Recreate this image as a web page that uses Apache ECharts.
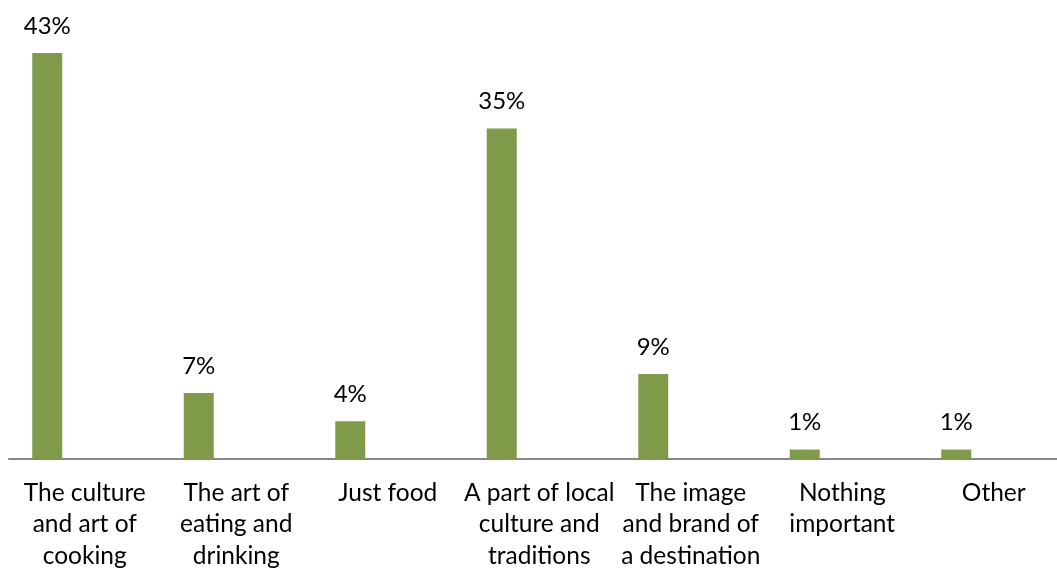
<!DOCTYPE html>
<html>
<head>
<meta charset="utf-8">
<script src="https://cdn.jsdelivr.net/npm/echarts@6/dist/echarts.min.js"></script>
<style>
  html, body { margin: 0; padding: 0; background: #ffffff; }
  #chart { width: 1057px; height: 570px; }
</style>
</head>
<body>
<div id="chart"></div>
<script>
// Survey answers: what gastronomy means to respondents (share of answers, %)
const categories = [
  'The culture\nand art of\ncooking',
  'The art of\neating and\ndrinking',
  'Just food',
  'A part of local\nculture and\ntraditions',
  'The image\nand brand of\na destination',
  'Nothing\nimportant',
  'Other'
];
const shares = [43, 7, 4, 35, 9, 1, 1];
// second slot of each cluster is left empty
const emptySlot = [null, null, null, null, null, null, null];

const FONT = 'Lato';
const chart = echarts.init(document.getElementById('chart'), null, { renderer: 'canvas' });

chart.setOption({
  animation: false,
  backgroundColor: '#ffffff',
  // plot area runs past the right edge of the canvas
  grid: {
    left: 9, top: 34, height: 425, width: 1060.5,
    containLabel: false,
    outerBoundsMode: 'none'
  },
  xAxis: {
    type: 'category',
    data: categories,
    axisTick: { show: false },
    axisLine: { lineStyle: { color: '#878787', width: 2 } },
    axisLabel: {
      interval: 0,
      margin: 18,
      color: '#000000',
      fontFamily: FONT,
      fontSize: 24.5,
      lineHeight: 31.7
    }
  },
  yAxis: {
    type: 'value',
    min: 0,
    max: 45,
    show: false,
    splitLine: { show: false }
  },
  series: [
    {
      type: 'bar',
      data: shares,
      barWidth: 30,
      barGap: '150%',
      itemStyle: { color: '#7f9b4a' },
      label: {
        show: true,
        position: 'top',
        distance: 13,
        formatter: '{c}%',
        color: '#000000',
        fontFamily: FONT,
        fontSize: 24,
        lineHeight: 28
      }
    },
    {
      type: 'bar',
      data: emptySlot,
      barWidth: 30,
      itemStyle: { color: '#7f9b4a' }
    }
  ]
});
</script>
</body>
</html>
